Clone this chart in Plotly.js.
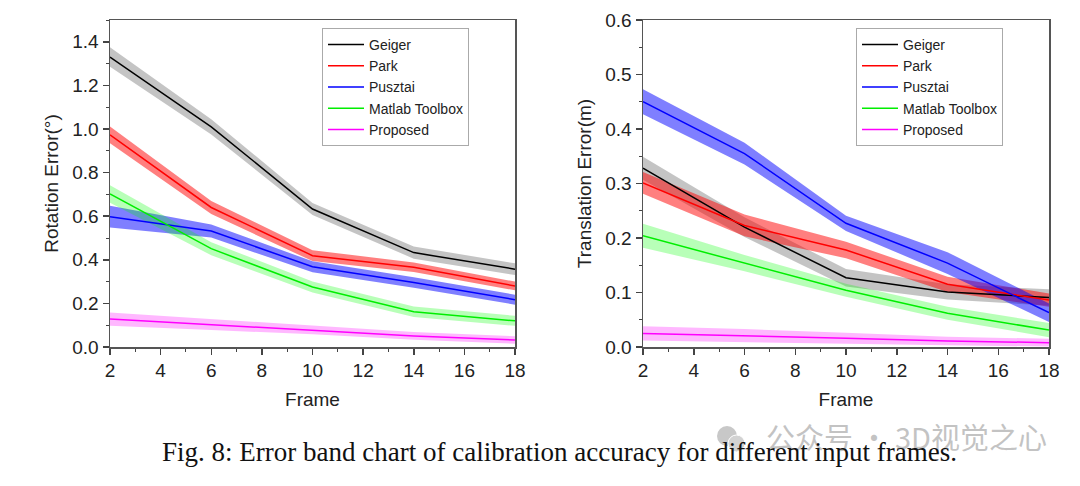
<!DOCTYPE html>
<html>
<head>
<meta charset="utf-8">
<script src="https://cdn.plot.ly/plotly-3.0.1.min.js"></script>
<style>html,body{margin:0;padding:0;background:#fff;}#chart{width:1080px;height:486px;}</style>
</head>
<body>
<div id="chart"></div>
<script>
// ---- data ----
const frames = [2, 6, 10, 14, 18];
const seriesNames = ["Geiger", "Park", "Pusztai", "Matlab Toolbox", "Proposed"];

// Rotation error (deg)
const geigerRot   = [1.33, 1.01, 0.633, 0.433, 0.357];
const parkRot     = [0.973, 0.64, 0.419, 0.366, 0.28];
const pusztaiRot  = [0.598, 0.532, 0.368, 0.296, 0.217];
const matlabRot   = [0.702, 0.451, 0.275, 0.162, 0.12];
const proposedRot = [0.128, 0.103, 0.078, 0.051, 0.032];
// Rotation band half-widths
const geigerRotErr   = [0.045, 0.035, 0.028, 0.028, 0.027];
const parkRotErr     = [0.038, 0.03, 0.025, 0.022, 0.02];
const pusztaiRotErr  = [0.05, 0.03, 0.025, 0.024, 0.023];
const matlabRotErr   = [0.04, 0.03, 0.025, 0.024, 0.023];
const proposedRotErr = [0.03, 0.025, 0.02, 0.018, 0.017];

// Translation error (m)
const geigerTrans   = [0.328, 0.22, 0.127, 0.101, 0.091];
const parkTrans     = [0.301, 0.223, 0.178, 0.115, 0.086];
const pusztaiTrans  = [0.45, 0.355, 0.227, 0.154, 0.063];
const matlabTrans   = [0.204, 0.154, 0.104, 0.062, 0.031];
const proposedTrans = [0.025, 0.021, 0.016, 0.011, 0.008];
// Translation band half-widths
const geigerTransErr   = [0.021, 0.018, 0.016, 0.014, 0.015];
const parkTransErr     = [0.02, 0.02, 0.015, 0.014, 0.012];
const pusztaiTransErr  = [0.023, 0.02, 0.014, 0.02, 0.017];
const matlabTransErr   = [0.022, 0.015, 0.012, 0.012, 0.013];
const proposedTransErr = [0.013, 0.012, 0.01, 0.008, 0.007];

const xTicks = [2, 4, 6, 8, 10, 12, 14, 16, 18];

// ---- styles ----
const lineColors = ["#000000", "#ff0000", "#0000ff", "#00ee00", "#ff00ff"];
const bandColors = ["rgba(0,0,0,0.23)", "rgba(255,0,0,0.5)", "rgba(0,0,255,0.5)", "rgba(0,255,0,0.28)", "rgba(255,0,255,0.28)"];

const rotSeries = [geigerRot, parkRot, pusztaiRot, matlabRot, proposedRot];
const rotErrs = [geigerRotErr, parkRotErr, pusztaiRotErr, matlabRotErr, proposedRotErr];
const transSeries = [geigerTrans, parkTrans, pusztaiTrans, matlabTrans, proposedTrans];
const transErrs = [geigerTransErr, parkTransErr, pusztaiTransErr, matlabTransErr, proposedTransErr];

function buildTraces(values, errs, xa, ya, legendId) {
  const bands = [], lines = [];
  values.forEach((v, i) => {
    const upper = v.map((d, k) => d + errs[i][k]);
    const lower = v.map((d, k) => d - errs[i][k]);
    bands.push({
      x: frames.concat(frames.slice().reverse()),
      y: upper.concat(lower.slice().reverse()),
      xaxis: xa, yaxis: ya, type: "scatter", mode: "lines",
      fill: "toself", fillcolor: bandColors[i],
      line: {width: 0, color: bandColors[i]},
      showlegend: false, hoverinfo: "skip"
    });
    lines.push({
      x: frames, y: v, xaxis: xa, yaxis: ya, type: "scatter", mode: "lines",
      name: seriesNames[i], line: {color: lineColors[i], width: 1.5},
      legend: legendId
    });
  });
  return bands.concat(lines);
}

const data = buildTraces(rotSeries, rotErrs, "x", "y", "legend")
  .concat(buildTraces(transSeries, transErrs, "x2", "y2", "legend2"));

const fontFam = "Liberation Sans, Arial, sans-serif";
const tickFont = {family: fontFam, size: 19, color: "#222"};
const titleFont = {family: fontFam, size: 19, color: "#222"};

function xAxis(domain, anchor) {
  return {
    domain: domain, anchor: anchor, range: [2, 18],
    tickvals: xTicks, ticktext: xTicks.map(String),
    ticks: "outside", ticklen: 6, tickwidth: 1.5, tickcolor: "#444",
    minor: {dtick: 1, tick0: 2, ticks: "outside", ticklen: 3, tickwidth: 1, tickcolor: "#444"},
    showline: true, mirror: true, linecolor: "#555", linewidth: 1.5,
    showgrid: false, zeroline: false, tickfont: tickFont,
    title: {text: "Frame", font: titleFont, standoff: 12}
  };
}
function yAxis(domain, anchor, range, dtick, minorDtick, title) {
  return {
    domain: domain, anchor: anchor, range: range, dtick: dtick, tick0: 0,
    tickformat: ".1f",
    ticks: "outside", ticklen: 6, tickwidth: 1.5, tickcolor: "#444",
    minor: {dtick: minorDtick, ticks: "outside", ticklen: 3, tickwidth: 1, tickcolor: "#444"},
    showline: true, mirror: true, linecolor: "#555", linewidth: 1.5,
    showgrid: false, zeroline: false, tickfont: tickFont,
    title: {text: title, font: titleFont, standoff: 8}
  };
}

const yDom = [1 - 347 / 486, 1 - 20 / 486];
const legendStyle = {
  yanchor: "top", xanchor: "left", y: 1 - 28 / 486,
  bgcolor: "#ffffff", bordercolor: "#aaaaaa", borderwidth: 1, itemwidth: 36,
  font: {family: fontFam, size: 14, color: "#222"}, tracegroupgap: 0
};

const layout = {
  width: 1080, height: 486,
  margin: {l: 0, r: 0, t: 0, b: 0},
  paper_bgcolor: "#ffffff", plot_bgcolor: "#ffffff",
  showlegend: true,
  xaxis: xAxis([110 / 1080, 515 / 1080], "y"),
  yaxis: yAxis(yDom, "x", [0, 1.5], 0.2, 0.1, "Rotation Error(°)"),
  xaxis2: xAxis([643 / 1080, 1049 / 1080], "y2"),
  yaxis2: yAxis(yDom, "x2", [0, 0.6], 0.1, 0.05, "Translation Error(m)"),
  legend: Object.assign({x: 322 / 1080}, legendStyle),
  legend2: Object.assign({x: 856 / 1080}, legendStyle),
  shapes: [
    {type: "circle", xref: "paper", yref: "paper", x0: 717 / 1080, x1: 737 / 1080, y0: 1 - 446 / 486, y1: 1 - 426 / 486, fillcolor: "#c8c8c8", line: {width: 0}},
    {type: "circle", xref: "paper", yref: "paper", x0: 728 / 1080, x1: 745 / 1080, y0: 1 - 452 / 486, y1: 1 - 435 / 486, fillcolor: "#d2d2d2", line: {width: 1, color: "#ffffff"}}
  ],
  annotations: [
    {xref: "paper", yref: "paper", x: 764 / 1080, y: 1 - 436 / 486, xanchor: "left", yanchor: "middle",
     text: "公众号 · 3D视觉之心", showarrow: false,
     font: {family: "Noto Sans CJK SC, sans-serif", size: 29, color: "rgba(175,175,175,0.75)"}},
    {xref: "paper", yref: "paper", x: 559 / 1080, y: 1 - 452 / 486, xanchor: "center", yanchor: "middle",
     text: "Fig. 8: Error band chart of calibration accuracy for different input frames.", showarrow: false,
     font: {family: "Liberation Serif, Times New Roman, serif", size: 27, color: "#111"}}
  ]
};

Plotly.newPlot("chart", data, layout, {staticPlot: true, displayModeBar: false});
</script>
</body>
</html>
